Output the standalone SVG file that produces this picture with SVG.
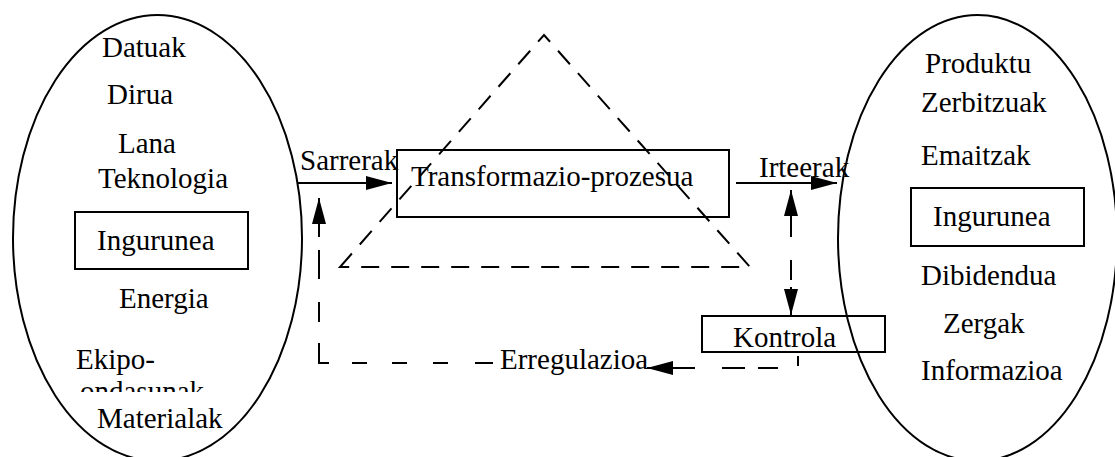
<svg xmlns="http://www.w3.org/2000/svg" width="1115" height="457" viewBox="0 0 1115 457">
<style>
.t{font-family:"Liberation Serif","Times New Roman",serif;font-size:29px;fill:#000}
.s{fill:none;stroke:#000;stroke-width:2}
.d{fill:none;stroke:#000;stroke-width:2;stroke-dasharray:18 12}
</style>
<defs>
<marker id="ah" markerUnits="userSpaceOnUse" markerWidth="26" markerHeight="14" refX="26" refY="7" orient="auto">
<path d="M0,0 L26,7 L0,14 Z" fill="#000"/>
</marker>
<clipPath id="clipE"><rect x="60" y="340" width="200" height="52"/></clipPath>
</defs>
<rect width="1115" height="457" fill="#fff"/>
<g id="left-env">
<ellipse class="s" cx="157.5" cy="238" rx="144.5" ry="223"/>
<text class="t" x="102" y="57">Datuak</text>
<text class="t" x="107" y="104">Dirua</text>
<text class="t" x="118" y="153">Lana</text>
<text class="t" x="98" y="188">Teknologia</text>
<g id="left-ingurunea">
<rect class="s" x="75" y="212" width="173" height="57"/>
<text class="t" x="97" y="250">Ingurunea</text>
</g>
<text class="t" x="119" y="308">Energia</text>
<text class="t" x="76" y="369">Ekipo-</text>
<text class="t" x="80" y="401" clip-path="url(#clipE)">ondasunak</text>
<text class="t" x="97" y="428">Materialak</text>
</g>
<g id="right-env">
<ellipse class="s" cx="977.5" cy="238" rx="139.5" ry="223"/>
<text class="t" x="925" y="73">Produktu</text>
<text class="t" x="921" y="112">Zerbitzuak</text>
<text class="t" x="921" y="165">Emaitzak</text>
<g id="right-ingurunea">
<rect class="s" x="911" y="188" width="173" height="58"/>
<text class="t" x="933" y="226">Ingurunea</text>
</g>
<text class="t" x="921" y="285">Dibidendua</text>
<text class="t" x="943" y="333">Zergak</text>
<text class="t" x="921" y="380">Informazioa</text>
</g>
<g id="triangle">
<path class="d" d="M340,267 L544,35 L750,267 Z"/>
</g>
<g id="process">
<rect class="s" x="397" y="150" width="332" height="67"/>
<text class="t" x="411" y="186">Transformazio-prozesua</text>
</g>
<g id="kontrola">
<rect class="s" x="702" y="316" width="183" height="36"/>
<text class="t" x="733" y="347">Kontrola</text>
</g>
<g id="connectors">
<line class="s" x1="297" y1="183" x2="392" y2="183" marker-end="url(#ah)"/>
<text class="t" x="300" y="170">Sarrerak</text>
<line class="s" x1="736" y1="183" x2="837" y2="183" marker-end="url(#ah)"/>
<text class="t" x="759" y="177">Irteerak</text>
<line class="s" x1="791" y1="237" x2="791" y2="190" marker-end="url(#ah)"/>
<line class="s" x1="791" y1="260" x2="791" y2="280"/>
<line class="s" x1="791" y1="287" x2="791" y2="315" marker-end="url(#ah)"/>
<line class="s" x1="319" y1="237" x2="319" y2="198" marker-end="url(#ah)"/>
<path class="s" d="M319,250 V279 M319,302 V322 M319,343 V363 H329 M352,363 H367 M392,363 H407 M433,363 H448 M475,363 H493"/>
<text class="t" x="500" y="369">Erregulazioa</text>
<path class="s" d="M798,356 V366 M778,368 H758 M745,368 H722"/>
<line class="s" x1="695" y1="368" x2="647" y2="368" marker-end="url(#ah)"/>
</g>
</svg>
